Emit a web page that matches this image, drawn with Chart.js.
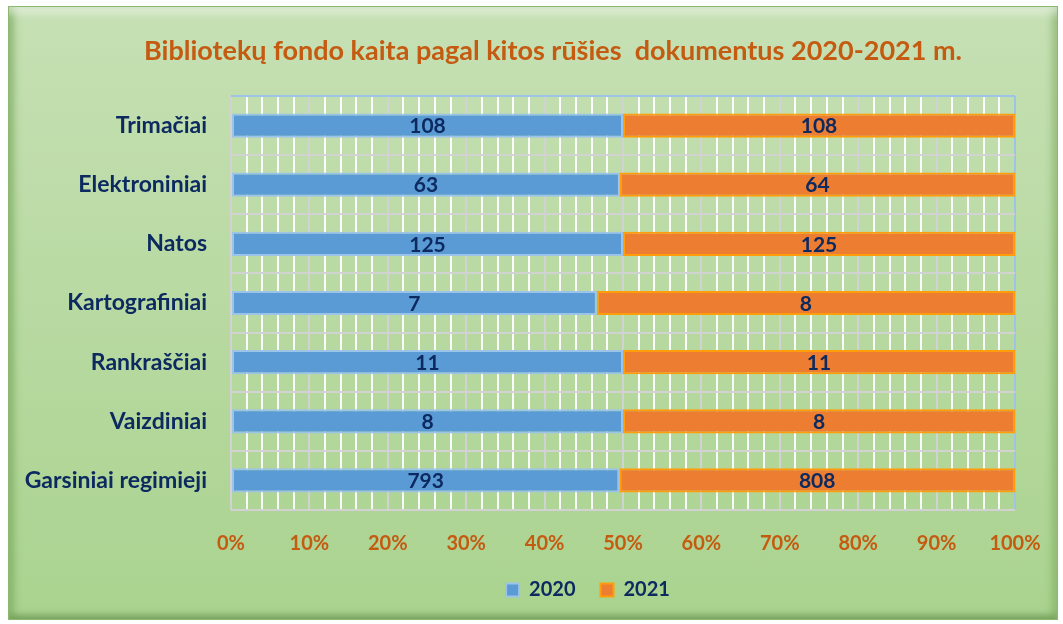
<!DOCTYPE html>
<html>
<head>
<meta charset="utf-8">
<script src="https://cdn.jsdelivr.net/npm/chart.js@4"></script>
<style>
  html, body { margin: 0; padding: 0; background: #ffffff; }
  #wrap { position: relative; width: 1063px; height: 624px; overflow: hidden; }
  #panel {
    position: absolute; left: 8px; top: 6px; width: 1050px; height: 614px;
    box-sizing: border-box;
    border: 1px solid #8db86f;
    background: linear-gradient(#c6e0b4, #aad38f);
    box-shadow:
      inset 0 10px 8px -4px rgba(255,255,255,0.55),
      inset 7px 0 8px -3px rgba(110,160,80,0.75),
      inset -7px 0 8px -3px rgba(110,160,80,0.6),
      inset 0 -7px 7px -3px rgba(90,130,70,0.55);
  }
  #c { position: absolute; left: 0; top: 0; }
</style>
</head>
<body>
<div id="wrap">
  <div id="panel"></div>
  <canvas id="c" width="1063" height="624"></canvas>
</div>
<script>
const titleText = 'Bibliotekų fondo kaita pagal kitos rūšies  dokumentus 2020-2021 m.';
const categories = ['Trimačiai', 'Elektroniniai', 'Natos', 'Kartografiniai', 'Rankraščiai', 'Vaizdiniai', 'Garsiniai regimieji'];
const seriesNames = ['2020', '2021'];
const values2020 = [108, 63, 125, 7, 11, 8, 793];
const values2021 = [108, 64, 125, 8, 11, 8, 808];
const xTickStep = 2;
const xLabelStep = 10;

const share = (a, b) => a.map((v, i) => v / (v + b[i]) * 100);
const pct2020 = share(values2020, values2021);
const pct2021 = share(values2021, values2020);

const NAVY = '#0c2a60';
const ORANGE_TXT = '#c55a11';
const FONT = 'Lato';

const titlePlugin = {
  id: 'titleText',
  afterDraw(chart) {
    const ctx = chart.ctx;
    ctx.save();
    ctx.font = 'bold 27px ' + FONT;
    ctx.fillStyle = ORANGE_TXT;
    ctx.textAlign = 'center';
    ctx.textBaseline = 'middle';
    ctx.fillText(titleText, 553, 51);
    ctx.restore();
  }
};

const valueLabels = {
  id: 'valueLabels',
  afterDatasetsDraw(chart) {
    const ctx = chart.ctx;
    const raws = [values2020, values2021];
    ctx.save();
    ctx.font = 'bold 21px ' + FONT;
    ctx.fillStyle = NAVY;
    ctx.textAlign = 'center';
    ctx.textBaseline = 'middle';
    chart.data.datasets.forEach((ds, di) => {
      const meta = chart.getDatasetMeta(di);
      meta.data.forEach((el, i) => {
        const p = el.getCenterPoint();
        ctx.fillText(String(raws[di][i]), p.x, p.y + 1);
      });
    });
    ctx.restore();
  }
};

new Chart(document.getElementById('c'), {
  type: 'bar',
  data: {
    labels: categories,
    datasets: [
      {
        label: seriesNames[0],
        data: pct2020,
        backgroundColor: '#5b9bd5',
        borderColor: '#9cc3e8',
        borderWidth: 2,
        borderSkipped: false,
        barPercentage: 0.41,
        categoryPercentage: 1
      },
      {
        label: seriesNames[1],
        data: pct2021,
        backgroundColor: '#ed7d31',
        borderColor: '#ff9e0a',
        borderWidth: 2,
        borderSkipped: false,
        barPercentage: 0.41,
        categoryPercentage: 1
      }
    ]
  },
  options: {
    indexAxis: 'y',
    responsive: false,
    animation: false,
    devicePixelRatio: 1,
    layout: { padding: { left: 0, right: -113, top: 96, bottom: 14 } },
    scales: {
      x: {
        stacked: true,
        min: 0, max: 100,
        border: { display: false },
        grid: {
          drawTicks: false,
          color: ctx => {
            const v = ctx.tick ? ctx.tick.value : 0;
            if (v === 100) return '#9dc3e6';
            if (v % xLabelStep === 0) return '#d2d2d2';
            return 'rgba(255,255,255,0.95)';
          },
          lineWidth: 2
        },
        ticks: {
          stepSize: xTickStep,
          autoSkip: false,
          maxRotation: 0,
          padding: 22,
          color: ORANGE_TXT,
          font: { family: FONT, size: 20, weight: 'bold' },
          callback: v => (v % xLabelStep === 0 ? v + '%' : '')
        },
        afterFit: s => { s.height = 45; }
      },
      y: {
        stacked: true,
        border: { display: false },
        grid: {
          offset: true,
          drawTicks: false,
          lineWidth: 2,
          color: ctx => (ctx.index === 0 || ctx.index === categories.length) ? '#9dc3e6' : '#d2d2d2'
        },
        ticks: {
          padding: 24,
          color: NAVY,
          font: { family: FONT, size: 23, weight: 'bold' }
        },
        afterFit: s => { s.width = 231; }
      },
      yRight: {
        type: 'linear',
        axis: 'y',
        position: 'right',
        display: true,
        grid: { display: false, drawTicks: false },
        border: { display: false },
        ticks: { display: false },
        afterFit: s => { s.width = 161; }
      }
    },
    plugins: {
      legend: {
        position: 'bottom',
        labels: {
          boxWidth: 13,
          boxHeight: 13,
          padding: 25,
          color: NAVY,
          font: { family: FONT, size: 20, weight: 'bold' }
        }
      },
      title: { display: false },
      tooltip: { enabled: false }
    }
  },
  plugins: [titlePlugin, valueLabels]
});
</script>
</body>
</html>
